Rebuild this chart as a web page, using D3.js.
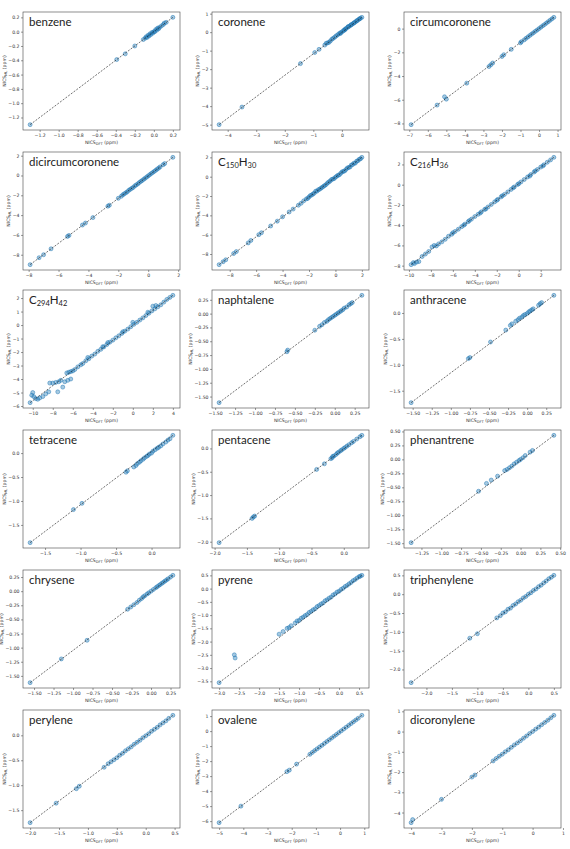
<!DOCTYPE html>
<html>
<head>
<meta charset="utf-8">
<script src="https://cdn.jsdelivr.net/npm/d3@7"></script>
<style>
  body { margin: 0; background: #fff; }
</style>
</head>
<body>
<div class="nics-grid"></div>
<script>
// one [NICS_DFT, NICS_ML] pair per point
var benzene = [[-1.3,-1.3],[-0.39,-0.39],[-0.3,-0.31],[-0.2,-0.2],[-0.11,-0.11],[-0.09,-0.09],[-0.08,-0.07],[-0.07,-0.08],[-0.06,-0.05],[-0.05,-0.06],[-0.04,-0.03],[-0.03,-0.04],[-0.02,-0.01],[-0.01,-0.02],[0,0],[0.01,0],[0.02,0.03],[0.03,0.02],[0.04,0.05],[0.05,0.04],[0.06,0.06],[0.08,0.08],[0.1,0.1],[0.11,0.12],[0.13,0.13],[0.2,0.2]]
var coronene = [[-4.3,-5.0],[-3.5,-4.05],[-1.45,-1.7],[-0.95,-1.1],[-0.8,-0.93],[-0.6,-0.7],[-0.55,-0.6],[-0.5,-0.58],[-0.45,-0.55],[-0.4,-0.47],[-0.35,-0.38],[-0.3,-0.33],[-0.25,-0.27],[-0.2,-0.2],[-0.15,-0.15],[-0.1,-0.08],[-0.05,-0.07],[-0.05,-0.03],[0,0.01],[0.05,0.08],[0.08,0.1],[0.1,0.13],[0.12,0.17],[0.15,0.2],[0.2,0.26],[0.22,0.3],[0.25,0.31],[0.3,0.36],[0.32,0.4],[0.35,0.42],[0.4,0.47],[0.42,0.5],[0.45,0.53],[0.5,0.58],[0.52,0.62],[0.55,0.64],[0.6,0.7],[0.62,0.72],[0.65,0.75],[0.7,0.8]]
var circumcoronene = [[-6.9,-8.1],[-5.5,-6.45],[-5.1,-5.75],[-5.0,-5.95],[-3.9,-4.6],[-2.7,-3.2],[-2.6,-3.05],[-2.5,-2.9],[-2.0,-2.35],[-1.9,-2.2],[-1.5,-1.75],[-1.0,-1.2],[-0.95,-1.1],[-0.8,-0.95],[-0.7,-0.82],[-0.6,-0.7],[-0.5,-0.58],[-0.4,-0.46],[-0.3,-0.35],[-0.2,-0.23],[-0.1,-0.12],[0,0],[0.1,0.12],[0.2,0.24],[0.3,0.35],[0.4,0.47],[0.5,0.59],[0.6,0.71],[0.7,0.83],[0.8,0.95]]
var dicircumcoronene = [[-7.9,-9.0],[-7.3,-8.3],[-7.0,-8.0],[-6.5,-7.4],[-5.4,-6.15],[-5.3,-6.05],[-4.4,-5.0],[-4.2,-4.8],[-3.7,-4.25],[-2.7,-3.1],[-2.6,-3.0],[-2.0,-2.3],[-1.8,-2.1],[-1.7,-1.95],[-1.6,-1.85],[-1.5,-1.75],[-1.4,-1.65],[-1.3,-1.5],[-1.2,-1.4],[-1.1,-1.3],[-1.0,-1.2],[-0.9,-1.05],[-0.8,-0.95],[-0.7,-0.85],[-0.6,-0.72],[-0.5,-0.6],[-0.4,-0.5],[-0.3,-0.38],[-0.2,-0.27],[-0.1,-0.15],[0,-0.04],[0.1,0.08],[0.2,0.19],[0.3,0.3],[0.4,0.41],[0.5,0.52],[0.6,0.64],[0.7,0.75],[0.8,0.87],[1.0,1.09],[1.1,1.2],[1.65,1.83]]
var c150h30 = [[-8.8,-9.1],[-8.5,-8.8],[-8.3,-8.6],[-7.7,-7.95],[-7.5,-7.75],[-6.6,-6.85],[-6.4,-6.6],[-5.8,-6.0],[-5.6,-5.8],[-4.9,-5.1],[-4.4,-4.6],[-4.0,-4.15],[-3.5,-3.65],[-3.2,-3.35],[-2.8,-2.95],[-2.6,-2.75],[-2.4,-2.5],[-2.2,-2.3],[-2.1,-2.25],[-2.0,-2.1],[-1.9,-1.95],[-1.8,-1.9],[-1.7,-1.8],[-1.6,-1.7],[-1.5,-1.5],[-1.4,-1.5],[-1.3,-1.35],[-1.2,-1.3],[-1.1,-1.2],[-1.0,-1.1],[-0.9,-1.0],[-0.8,-0.9],[-0.7,-0.8],[-0.6,-0.65],[-0.5,-0.55],[-0.4,-0.45],[-0.3,-0.3],[-0.2,-0.25],[-0.1,-0.2],[0,-0.05],[0.1,0.05],[0.2,0.15],[0.3,0.2],[0.4,0.35],[0.5,0.5],[0.6,0.55],[0.7,0.6],[0.8,0.75],[0.9,0.9],[1.0,0.95],[1.1,1.0],[1.2,1.2],[1.3,1.25],[1.4,1.4],[1.5,1.4],[1.6,1.6],[1.7,1.65],[1.8,1.8],[1.9,1.85],[2.0,2.0]]
var c216h36 = [[-9.8,-7.9],[-9.6,-7.7],[-9.5,-7.8],[-9.3,-7.65],[-9.1,-7.6],[-8.8,-7.1],[-8.5,-6.85],[-8.2,-6.6],[-7.9,-6.15],[-7.7,-6.0],[-7.5,-6.05],[-7.3,-5.85],[-7.0,-5.65],[-6.7,-5.4],[-6.4,-5.1],[-6.1,-4.9],[-6.0,-4.75],[-5.8,-4.62],[-5.5,-4.4],[-5.2,-4.15],[-5.0,-4.0],[-4.9,-3.9],[-4.6,-3.65],[-4.5,-3.55],[-4.3,-3.4],[-4.0,-3.15],[-3.7,-2.93],[-3.5,-2.8],[-3.4,-2.68],[-3.1,-2.44],[-3.0,-2.4],[-2.8,-2.2],[-2.5,-1.95],[-2.2,-1.7],[-2.0,-1.55],[-1.9,-1.45],[-1.6,-1.2],[-1.5,-1.1],[-1.3,-0.96],[-1.0,-0.72],[-0.7,-0.47],[-0.5,-0.3],[-0.4,-0.22],[-0.1,0.02],[0,0.1],[0.2,0.27],[0.5,0.51],[0.8,0.76],[1.0,0.85],[1.1,1.0],[1.4,1.25],[1.5,1.35],[1.7,1.5],[2.0,1.74],[2.2,1.85],[2.3,1.97],[2.6,2.22],[2.9,2.45],[3.2,2.7]]
var c294h42 = [[-10.26,-5.75],[-10.1,-5.2],[-10.0,-5.0],[-9.9,-5.3],[-9.7,-5.45],[-9.5,-5.5],[-9.3,-5.4],[-9.0,-5.3],[-8.7,-5.1],[-8.4,-4.95],[-8.3,-4.3],[-8.0,-4.3],[-7.7,-4.25],[-7.4,-4.2],[-7.2,-4.1],[-7.5,-4.95],[-7.0,-4.6],[-6.8,-4.2],[-6.6,-3.55],[-6.4,-3.5],[-6.2,-3.45],[-6.0,-3.4],[-6.5,-4.1],[-6.2,-4.0],[-5.8,-3.3],[-5.5,-3.1],[-5.2,-2.95],[-5.0,-2.85],[-4.7,-2.65],[-4.5,-2.4],[-4.4,-2.5],[-4.1,-2.3],[-3.8,-2.15],[-3.5,-1.95],[-3.2,-1.8],[-3.0,-1.6],[-2.9,-1.62],[-2.6,-1.45],[-2.5,-1.3],[-2.3,-1.27],[-2.0,-1.12],[-1.7,-0.95],[-1.4,-0.8],[-1.1,-0.62],[-1.0,-0.5],[-0.8,-0.45],[-0.5,-0.3],[-0.2,-0.12],[0,0.2],[0.1,0.05],[0.4,0.2],[0.7,0.37],[1.0,0.53],[1.3,0.7],[1.5,0.95],[1.6,0.87],[1.9,1.05],[2.0,1.4],[2.2,1.2],[2.3,1.45],[2.5,1.35],[2.8,1.5],[3.1,1.7],[3.4,1.9],[3.7,2.05],[4.0,2.2]]
var naphtalene = [[-1.45,-1.61],[-0.6,-0.69],[-0.59,-0.66],[-0.25,-0.3],[-0.19,-0.23],[-0.16,-0.2],[-0.13,-0.16],[-0.1,-0.14],[-0.08,-0.11],[-0.06,-0.09],[-0.04,-0.07],[-0.02,-0.05],[0,-0.03],[0.02,-0.01],[0.04,0.01],[0.06,0.03],[0.08,0.05],[0.1,0.07],[0.12,0.1],[0.15,0.12],[0.18,0.16],[0.2,0.18],[0.22,0.2],[0.34,0.33]]
var anthracene = [[-1.52,-1.73],[-0.77,-0.88],[-0.75,-0.86],[-0.48,-0.56],[-0.28,-0.33],[-0.22,-0.24],[-0.2,-0.21],[-0.15,-0.16],[-0.12,-0.13],[-0.1,-0.1],[-0.07,-0.08],[-0.05,-0.05],[-0.03,-0.03],[0,-0.01],[0.02,0.02],[0.04,0.04],[0.06,0.06],[0.08,0.08],[0.15,0.15],[0.17,0.18],[0.19,0.2],[0.35,0.34]]
var tetracene = [[-1.71,-1.87],[-1.1,-1.18],[-0.98,-1.05],[-0.36,-0.4],[-0.34,-0.37],[-0.25,-0.29],[-0.22,-0.26],[-0.2,-0.22],[-0.17,-0.19],[-0.15,-0.16],[-0.12,-0.13],[-0.1,-0.1],[-0.07,-0.07],[-0.05,-0.05],[-0.03,-0.02],[0,0],[0.02,0.04],[0.05,0.07],[0.08,0.1],[0.1,0.12],[0.13,0.15],[0.16,0.19],[0.2,0.23],[0.23,0.27],[0.26,0.3],[0.3,0.37]]
var pentacene = [[-1.93,-2.02],[-1.42,-1.5],[-1.4,-1.47],[-1.38,-1.45],[-0.42,-0.45],[-0.3,-0.33],[-0.2,-0.22],[-0.18,-0.2],[-0.17,-0.17],[-0.15,-0.16],[-0.12,-0.13],[-0.1,-0.1],[-0.08,-0.08],[-0.05,-0.05],[-0.03,-0.03],[0,0],[0.02,0.02],[0.05,0.05],[0.08,0.08],[0.12,0.12],[0.15,0.15],[0.2,0.2],[0.25,0.25],[0.28,0.28]]
var phenantrene = [[-1.38,-1.49],[-0.53,-0.57],[-0.43,-0.43],[-0.37,-0.37],[-0.29,-0.3],[-0.2,-0.2],[-0.17,-0.18],[-0.14,-0.15],[-0.11,-0.12],[-0.08,-0.08],[-0.05,-0.05],[-0.02,-0.02],[0,0],[0.03,0.03],[0.06,0.07],[0.12,0.13],[0.15,0.16],[0.42,0.43]]
var chrysene = [[-1.55,-1.62],[-1.15,-1.2],[-0.82,-0.87],[-0.3,-0.32],[-0.26,-0.28],[-0.22,-0.24],[-0.18,-0.2],[-0.15,-0.16],[-0.12,-0.13],[-0.1,-0.1],[-0.08,-0.08],[-0.05,-0.05],[-0.03,-0.03],[0,0],[0.03,0.03],[0.06,0.06],[0.08,0.08],[0.1,0.1],[0.12,0.12],[0.14,0.14],[0.16,0.16],[0.18,0.18],[0.2,0.2],[0.22,0.22],[0.25,0.25],[0.28,0.28]]
var pyrene = [[-3.0,-3.55],[-2.62,-2.5],[-2.6,-2.62],[-1.5,-1.72],[-1.4,-1.62],[-1.3,-1.5],[-1.25,-1.47],[-1.2,-1.4],[-1.1,-1.3],[-1.05,-1.22],[-1.0,-1.2],[-0.95,-1.12],[-0.9,-1.08],[-0.85,-1.02],[-0.8,-0.98],[-0.75,-0.9],[-0.7,-0.86],[-0.65,-0.8],[-0.6,-0.76],[-0.55,-0.68],[-0.5,-0.64],[-0.45,-0.58],[-0.4,-0.54],[-0.35,-0.46],[-0.3,-0.42],[-0.25,-0.36],[-0.2,-0.32],[-0.15,-0.24],[-0.1,-0.2],[-0.05,-0.13],[0,-0.1],[0.05,-0.03],[0.1,0.01],[0.15,0.08],[0.2,0.12],[0.25,0.18],[0.3,0.23],[0.35,0.3],[0.4,0.34],[0.45,0.4],[0.5,0.45],[0.53,0.47],[0.57,0.5]]
var triphenylene = [[-2.3,-2.35],[-1.15,-1.17],[-1.0,-1.05],[-0.62,-0.63],[-0.55,-0.57],[-0.5,-0.5],[-0.45,-0.47],[-0.4,-0.4],[-0.35,-0.37],[-0.3,-0.3],[-0.25,-0.26],[-0.2,-0.2],[-0.15,-0.16],[-0.1,-0.1],[-0.05,-0.06],[0,0],[0.05,0.04],[0.1,0.1],[0.15,0.14],[0.2,0.2],[0.25,0.24],[0.3,0.3],[0.35,0.35],[0.4,0.41],[0.45,0.45],[0.5,0.5]]
var perylene = [[-2.0,-1.75],[-1.55,-1.36],[-1.2,-1.07],[-1.15,-1.02],[-0.72,-0.64],[-0.65,-0.57],[-0.6,-0.53],[-0.55,-0.49],[-0.5,-0.45],[-0.45,-0.4],[-0.4,-0.36],[-0.35,-0.31],[-0.3,-0.27],[-0.25,-0.23],[-0.2,-0.18],[-0.15,-0.14],[-0.1,-0.1],[-0.05,-0.05],[0,-0.01],[0.05,0.03],[0.1,0.08],[0.15,0.12],[0.2,0.16],[0.25,0.21],[0.3,0.25],[0.35,0.29],[0.4,0.34],[0.47,0.4]]
var ovalene = [[-5.0,-6.1],[-4.1,-5.0],[-2.2,-2.7],[-2.1,-2.6],[-1.8,-2.2],[-1.25,-1.55],[-1.15,-1.42],[-1.05,-1.3],[-0.95,-1.18],[-0.85,-1.06],[-0.75,-0.95],[-0.65,-0.82],[-0.55,-0.7],[-0.45,-0.58],[-0.35,-0.46],[-0.25,-0.34],[-0.15,-0.22],[-0.05,-0.1],[0.05,0.02],[0.15,0.14],[0.25,0.26],[0.35,0.38],[0.45,0.5],[0.55,0.62],[0.65,0.74],[0.75,0.86],[0.9,1.05]]
var dicoronylene = [[-4.0,-4.5],[-3.95,-4.35],[-3.0,-3.35],[-2.0,-2.25],[-1.9,-2.15],[-1.3,-1.45],[-1.2,-1.33],[-1.1,-1.22],[-1.0,-1.12],[-0.9,-1.0],[-0.8,-0.9],[-0.7,-0.78],[-0.6,-0.66],[-0.5,-0.56],[-0.4,-0.45],[-0.3,-0.33],[-0.2,-0.22],[-0.1,-0.1],[0,0],[0.1,0.12],[0.2,0.22],[0.3,0.34],[0.4,0.45],[0.5,0.56],[0.6,0.68],[0.7,0.8]]

var names = ["benzene","coronene","circumcoronene","dicircumcoronene","C150H30","C216H36","C294H42","naphtalene","anthracene","tetracene","pentacene","phenantrene","chrysene","pyrene","triphenylene","perylene","ovalene","dicoronylene"]
var series = [benzene,coronene,circumcoronene,dicircumcoronene,c150h30,c216h36,c294h42,naphtalene,anthracene,tetracene,pentacene,phenantrene,chrysene,pyrene,triphenylene,perylene,ovalene,dicoronylene]

var xTicks = [
  [-1.2,-1.0,-0.8,-0.6,-0.4,-0.2,0.0,0.2],
  [-4,-3,-2,-1,0],
  [-7,-6,-5,-4,-3,-2,-1,0,1],
  [-8,-6,-4,-2,0,2],
  [-8,-6,-4,-2,0,2],
  [-10,-8,-6,-4,-2,0,2],
  [-10,-8,-6,-4,-2,0,2,4],
  [-1.5,-1.25,-1.0,-0.75,-0.5,-0.25,0.0,0.25],
  [-1.5,-1.25,-1.0,-0.75,-0.5,-0.25,0.0,0.25],
  [-1.5,-1.0,-0.5,0.0],
  [-2.0,-1.5,-1.0,-0.5,0.0],
  [-1.25,-1.0,-0.75,-0.5,-0.25,0.0,0.25,0.5],
  [-1.5,-1.25,-1.0,-0.75,-0.5,-0.25,0.0,0.25],
  [-3.0,-2.5,-2.0,-1.5,-1.0,-0.5,0.0,0.5],
  [-2.0,-1.5,-1.0,-0.5,0.0,0.5],
  [-2.0,-1.5,-1.0,-0.5,0.0,0.5],
  [-5,-4,-3,-2,-1,0,1],
  [-4,-3,-2,-1,0,1]
]
var yTicks = [
  [0.2,0.0,-0.2,-0.4,-0.6,-0.8,-1.0,-1.2],
  [1,0,-1,-2,-3,-4,-5],
  [0,-2,-4,-6,-8],
  [2,0,-2,-4,-6,-8],
  [2,0,-2,-4,-6,-8],
  [2,0,-2,-4,-6,-8],
  [2,1,0,-1,-2,-3,-4,-5,-6],
  [0.25,0.0,-0.25,-0.5,-0.75,-1.0,-1.25,-1.5],
  [0.0,-0.5,-1.0,-1.5],
  [0.0,-0.5,-1.0,-1.5],
  [0.0,-0.5,-1.0,-1.5,-2.0],
  [0.5,0.25,0.0,-0.25,-0.5,-0.75,-1.0,-1.25,-1.5],
  [0.25,0.0,-0.25,-0.5,-0.75,-1.0,-1.25,-1.5],
  [0.5,0.0,-0.5,-1.0,-1.5,-2.0,-2.5,-3.0,-3.5],
  [0.5,0.0,-0.5,-1.0,-1.5,-2.0],
  [0.0,-0.5,-1.0,-1.5],
  [1,0,-1,-2,-3,-4,-5,-6],
  [1,0,-1,-2,-3,-4]
]

var width = 570, height = 849
var colLeft = [23, 212, 404]
var rowTop = [12, 152, 290, 430, 570, 710]
var plotW = 157, plotH = 118
var blue = "#1f77b4"

var svg = d3.select(".nics-grid")
            .append("svg")
            .attr("width", width)
            .attr("height", height)
            .style("background-color", "#fff")

// decimals needed for a tick list, like matplotlib shows them
function decimals(ticks){
  var p = 0
  ticks.forEach(t => {
    var s = String(Math.abs(t))
    if (s.indexOf(".") >= 0) p = Math.max(p, s.split(".")[1].length)
  })
  if (p == 0 && ticks.some(t => t % 1 != 0)) p = 1
  return p
}

function padded(vals){
  var lo = d3.min(vals), hi = d3.max(vals), m = (hi - lo) * 0.05
  return [lo - m, hi + m]
}

// "NICS" + subscript + " (ppm)"
function nicsLabel(sel, sub){
  sel.append("tspan").text("NICS")
  sel.append("tspan").text(sub).attr("font-size", 3.6).attr("dy", 1.2)
  sel.append("tspan").text(" (ppm)").attr("dy", -1.2)
}

names.forEach((name, i) => {
  var data = series[i]
  var left = colLeft[i % 3], top = rowTop[Math.floor(i / 3)]
  var g = svg.append("g").attr("transform", "translate(" + left + "," + top + ")")

  var x = d3.scaleLinear().domain(padded(data.map(d => d[0]))).range([0, plotW])
  var y = d3.scaleLinear().domain(padded(data.map(d => d[1]))).range([plotH, 0])

  var xFmt = d3.format("." + decimals(xTicks[i]) + "f")
  var yFmt = d3.format("." + decimals(yTicks[i]) + "f")

  var xAxis = g.append("g")
      .attr("transform", "translate(0," + plotH + ")")
      .call(d3.axisBottom(x).tickValues(xTicks[i]).tickFormat(xFmt).tickSize(2).tickPadding(1.5))
  var yAxis = g.append("g")
      .call(d3.axisLeft(y).tickValues(yTicks[i]).tickFormat(yFmt).tickSize(2).tickPadding(1.5))
  ;[xAxis, yAxis].forEach(a => {
    a.select(".domain").remove()
    a.selectAll(".tick line").attr("stroke", "#333").attr("stroke-width", 0.5)
    a.selectAll(".tick text")
      .attr("fill", "#333")
      .style("font-family", "DejaVu Sans")
      .style("font-size", "4.6px")
  })

  g.append("g")
    .selectAll("circle")
    .data(data)
    .enter()
    .append("circle")
      .attr("cx", d => x(d[0]))
      .attr("cy", d => y(d[1]))
      .attr("r", 2)
      .attr("fill", blue)
      .attr("fill-opacity", 0.4)
      .attr("stroke", blue)
      .attr("stroke-opacity", 0.8)
      .attr("stroke-width", 0.6)

  var xs = data.map(d => d[0]), ys = data.map(d => d[1])
  g.append("line")
    .attr("x1", x(d3.min(xs))).attr("y1", y(d3.min(ys)))
    .attr("x2", x(d3.max(xs))).attr("y2", y(d3.max(ys)))
    .attr("stroke", "#111")
    .attr("stroke-width", 0.6)
    .style("stroke-dasharray", "2,1.4")

  g.append("rect")
    .attr("width", plotW).attr("height", plotH)
    .attr("fill", "none")
    .attr("stroke", "#444")
    .attr("stroke-width", 0.6)

  // title, digits become subscripts (C150H30 -> C₁₅₀H₃₀)
  var title = g.append("text")
      .attr("x", 6).attr("y", 16)
      .style("font-family", "Lato")
      .style("font-size", "11.5px")
      .attr("fill", "#222")
  name.split(/(\d+)/).filter(s => s.length).forEach(part => {
    if (/^\d+$/.test(part)) {
      title.append("tspan").text(part).attr("font-size", 7.5).attr("dy", 2.5)
    } else {
      title.append("tspan").text(part).attr("dy", title.selectAll("tspan").size() ? -2.5 : 0)
    }
  })

  var xl = g.append("text")
      .attr("x", plotW / 2).attr("y", plotH + 13.5)
      .attr("text-anchor", "middle")
      .style("font-family", "DejaVu Sans")
      .style("font-size", "4.6px")
      .attr("fill", "#333")
  nicsLabel(xl, "DFT")

  // y label sits just outside the widest tick label
  var yw = yAxis.node().getBBox().width
  var yl = g.append("text")
      .attr("transform", "translate(" + (-yw - 2.5) + "," + (plotH / 2) + ") rotate(-90)")
      .attr("text-anchor", "middle")
      .style("font-family", "DejaVu Sans")
      .style("font-size", "4.6px")
      .attr("fill", "#333")
  nicsLabel(yl, "ML")
})
</script>
</body>
</html>
